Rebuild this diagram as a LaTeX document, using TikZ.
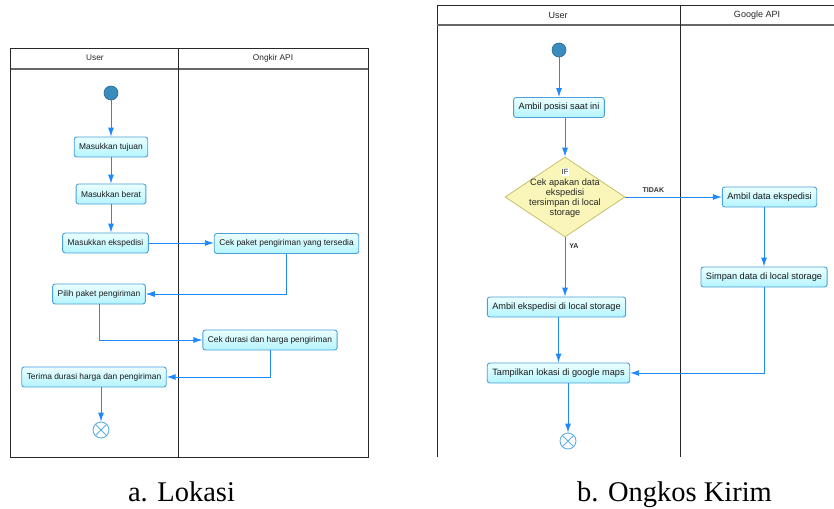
\documentclass[tikz,border=0pt]{standalone}
\usepackage{fontspec}
\setmainfont{Liberation Serif}
\newfontfamily\arial{Liberation Sans}
\usetikzlibrary{shapes.geometric,arrows.meta}

\definecolor{flow}{RGB}{30,136,255}
\definecolor{boxline}{RGB}{75,160,215}
\definecolor{boxtop}{RGB}{235,255,255}
\definecolor{boxbot}{RGB}{180,244,255}
\definecolor{startfill}{RGB}{58,140,190}
\definecolor{startline}{RGB}{40,105,150}
\definecolor{endline}{RGB}{95,175,225}
\definecolor{decfill}{RGB}{250,246,185}
\definecolor{decline}{RGB}{200,192,110}
\definecolor{framecol}{RGB}{40,40,40}

\begin{document}
\begin{tikzpicture}[x=1pt,y=-1pt,
  act/.style={draw=boxline, line width=0.9pt, rounded corners=2.5pt,
    top color=boxtop, bottom color=boxbot, minimum height=20pt,
    inner xsep=5pt, inner ysep=0pt, text=black!90,
    font=\arial\fontsize{8.4}{10}\selectfont},
  actb/.style={act, font=\arial\fontsize{9.2}{10}\selectfont},
  startnode/.style={circle, fill=startfill, draw=startline, line width=0.6pt,
    minimum size=14pt, inner sep=0pt},
  endnode/.style={circle, draw=endline, fill=white, line width=0.9pt,
    minimum size=16pt, inner sep=0pt},
  flowline/.style={draw=flow, line width=0.9pt, -{Latex[length=9pt,width=6pt]}},
  lane/.style={draw=framecol, line width=0.9pt},
  headline/.style={draw=black!60, line width=1.2pt},
  lanehead/.style={font=\arial\fontsize{8.3}{10}\selectfont, text=black!85},
  laneheadb/.style={font=\arial\fontsize{9}{10}\selectfont, text=black!85},
  guard/.style={font=\arial\bfseries\fontsize{7}{8}\selectfont, text=black!80, inner sep=1pt},
  caption/.style={font=\fontsize{28.5}{30}\selectfont, anchor=base, inner sep=0pt}
]
\useasboundingbox (0,0) rectangle (834,508);

% ---------- left diagram: frame ----------
\draw[lane] (10.7,48) rectangle (368,457);
\draw[headline] (10.7,69) -- (368,69);
\draw[lane] (178,48) -- (178,457);
\node[lanehead] (hu1) at (95,58) {User};
\node[lanehead] (ho) at (273,58) {Ongkir API};

% ---------- left diagram: nodes ----------
\node[startnode] (s1) at (111,93) {};
\node[act] (tuj) at (111,147) {Masukkan tujuan};
\node[act] (ber) at (111,194) {Masukkan berat};
\node[act] (eks) at (105.5,243) {Masukkan ekspedisi};
\node[act] (cek) at (286.5,243.5) {Cek paket pengiriman yang tersedia};
\node[act] (pil) at (99,294) {Pilih paket pengiriman};
\node[act] (dur) at (270,340) {Cek durasi dan harga pengiriman};
\node[act] (ter) at (94,377) {Terima durasi harga dan pengiriman};
\node[endnode] (e1) at (101,430) {};
\draw[draw=endline, line width=0.9pt] (e1.45) -- (e1.225) (e1.135) -- (e1.315);

% ---------- left diagram: flows ----------
\draw[flowline] (s1) -- (tuj);
\draw[flowline] (tuj) -- (ber);
\draw[flowline] (ber.south) -- (ber.south |- eks.north);
\draw[flowline] (eks.east) -- (eks.east -| cek.west);
\draw[flowline] (cek.south) |- (pil.east);
\draw[flowline] (pil.south) |- (dur.west);
\draw[flowline] (dur.south) |- (ter.east);
\draw[flowline] (ter.south -| e1.north) -- (e1.north);

% ---------- right diagram: frame ----------
\draw[lane] (437,457) -- (437,5) -- (834,5);
\draw[headline] (437,25) -- (834,25);
\draw[lane] (680,5) -- (680,457);
\node[laneheadb] (hu2) at (558,15) {User};
\node[laneheadb] (hg) at (757,15) {Google API};

% ---------- right diagram: nodes ----------
\node[startnode] (s2) at (559,50) {};
\node[actb] (pos) at (559,107.5) {Ambil posisi saat ini};
\node[diamond, draw=decline, fill=decfill, line width=0.8pt,
      minimum width=120pt, minimum height=80pt, inner sep=0pt] (dec) at (565,197) {};
\node[fill=white, inner sep=1pt, font=\arial\fontsize{7.5}{9}\selectfont, text=black!85] (iflbl) at (565,172) {IF};
\node[align=center, inner sep=0pt, font=\arial\fontsize{9.2}{10}\selectfont, text=black!85] (dectxt) at (565,198)
  {Cek apakan data\\ekspedisi\\tersimpan di local\\storage};
\node[actb] (ade) at (769.5,197) {Ambil data ekspedisi};
\node[actb] (sim) at (764,277) {Simpan data di local storage};
\node[actb] (ael) at (556.5,307) {Ambil ekspedisi di local storage};
\node[actb] (tam) at (558.5,373) {Tampilkan lokasi di google maps};
\node[endnode] (e2) at (568,441) {};
\draw[draw=endline, line width=0.9pt] (e2.45) -- (e2.225) (e2.135) -- (e2.315);

% ---------- right diagram: flows ----------
\draw[flowline] (s2) -- (pos);
\draw[flowline] (dec.north |- pos.south) -- (dec.north);
\draw[flowline] (dec.east) -- node[guard, pos=0.29, above=3pt] {TIDAK} (ade.west);
\draw[flowline] (sim.north |- ade.south) -- (sim.north);
\draw[flowline] (dec.south) -- node[guard, pos=0.14, right=3pt] {YA} (dec.south |- ael.north);
\draw[flowline] (ael.south -| tam.north) -- (tam.north);
\draw[flowline] (sim.south) |- (tam.east);
\draw[flowline] (e2.north |- tam.south) -- (e2.north);

% ---------- captions ----------
\node[caption] (capa) at (181.5,501) {a. Lokasi};
\node[caption] (capb) at (674.5,501) {b. Ongkos Kirim};
\end{tikzpicture}
\end{document}
